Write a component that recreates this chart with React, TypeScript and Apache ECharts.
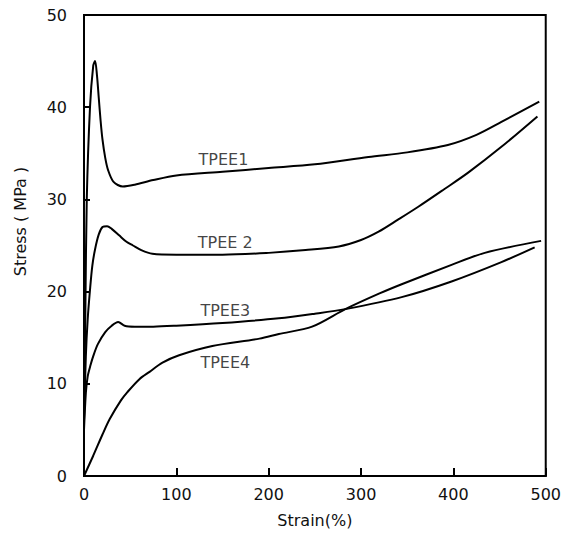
import React, { useEffect, useRef } from "react";
import * as echarts from "echarts";

const tpee1Strain = [0, 1.5, 3, 6.5, 10, 12, 14, 16, 18, 20, 23, 26, 32, 42, 55, 75, 100, 150, 200, 250, 308, 350, 394, 425, 452, 493];
const tpee1Stress = [6, 18, 30, 40, 44.5, 45, 43.5, 41, 38.5, 36.5, 34.5, 33.2, 31.9, 31.4, 31.6, 32.1, 32.6, 33, 33.4, 33.8, 34.6, 35.1, 35.9, 37, 38.4, 40.6];

const tpee2Strain = [0, 2, 4, 6.5, 9, 12, 16, 20, 25, 30, 38, 46, 53, 62, 74, 100, 150, 200, 240, 276, 300, 319, 340, 362, 390, 416, 452, 491];
const tpee2Stress = [6, 13, 17, 20.2, 22.8, 24.6, 26.2, 27, 27.1, 26.8, 26.1, 25.4, 25, 24.5, 24.1, 24, 24, 24.2, 24.5, 24.9, 25.6, 26.5, 27.8, 29.2, 31.1, 32.9, 35.7, 39];

const tpee3Strain = [0, 2, 4, 7, 10, 15, 23, 30, 37, 44, 55, 75, 100, 150, 211, 250, 283, 344, 398, 452, 488];
const tpee3Stress = [5, 9, 10.8, 12, 13, 14.3, 15.6, 16.3, 16.7, 16.3, 16.2, 16.2, 16.3, 16.6, 17.1, 17.6, 18.1, 19.4, 21.1, 23.2, 24.8];

const tpee4Strain = [0, 10, 20, 28, 40, 47, 60, 71, 85, 103, 139, 190, 211, 247, 283, 320, 344, 398, 434, 495];
const tpee4Stress = [0, 2.2, 4.5, 6.2, 8.2, 9.1, 10.5, 11.3, 12.3, 13.1, 14.1, 14.9, 15.4, 16.2, 18.1, 19.8, 20.8, 22.9, 24.2, 25.5];

const labelNames = ["TPEE1", "TPEE 2", "TPEE3", "TPEE4"];
const labelStrain = [151, 153, 153, 153];
const labelStress = [34.3, 25.3, 17.9, 12.3];

const xTicks = [0, 100, 200, 300, 400, 500];
const yTicks = [0, 10, 20, 30, 40, 50];

const FONT = "DejaVu Sans";

function pairs(xs: number[], ys: number[]) {
  return xs.map((x, i) => [x, ys[i]]);
}

export default function App() {
  const ref = useRef<HTMLDivElement>(null);
  useEffect(() => {
    document.body.style.margin = "0";
    if (!ref.current) return;
    const chart = echarts.init(ref.current, null, { renderer: "svg" });
    const lineStyle = { color: "#000", width: 2 };
    const mkLine = (name: string, xs: number[], ys: number[]) => ({
      name,
      type: "line",
      data: pairs(xs, ys),
      showSymbol: false,
      symbol: "none",
      smooth: 0.3,
      lineStyle,
      z: 3,
    });
    chart.setOption({
      animation: false,
      backgroundColor: "#fff",
      grid: {
        left: 84,
        top: 15,
        right: 16,
        bottom: 56,
        show: true,
        borderColor: "#000",
        borderWidth: 2,
      },
      xAxis: {
        type: "value",
        min: xTicks[0],
        max: xTicks[xTicks.length - 1],
        interval: 100,
        name: "Strain(%)",
        nameLocation: "middle",
        nameGap: 36,
        nameTextStyle: { fontFamily: FONT, fontSize: 16, color: "#111" },
        axisLine: { show: true, lineStyle: { color: "#000", width: 2 } },
        axisTick: { show: true, inside: true, length: 8, lineStyle: { color: "#000", width: 2 } },
        axisLabel: { fontFamily: FONT, fontSize: 16, color: "#111", margin: 10 },
        splitLine: { show: false },
      },
      yAxis: {
        type: "value",
        min: yTicks[0],
        max: yTicks[yTicks.length - 1],
        interval: 10,
        name: "Stress ( MPa )",
        nameLocation: "middle",
        nameGap: 56,
        nameRotate: 90,
        nameTextStyle: { fontFamily: FONT, fontSize: 16, color: "#111", padding: [0, 0, 0, 48] },
        axisLine: { show: true, lineStyle: { color: "#000", width: 2 } },
        axisTick: { show: true, inside: true, length: 6, lineStyle: { color: "#000", width: 2 } },
        axisLabel: { fontFamily: FONT, fontSize: 16, color: "#111", margin: 17 },
        splitLine: { show: false },
      },
      series: [
        mkLine("TPEE1", tpee1Strain, tpee1Stress),
        mkLine("TPEE 2", tpee2Strain, tpee2Stress),
        mkLine("TPEE3", tpee3Strain, tpee3Stress),
        mkLine("TPEE4", tpee4Strain, tpee4Stress),
        {
          type: "scatter",
          data: labelNames.map((n, i) => ({ name: n, value: [labelStrain[i], labelStress[i]] })),
          symbolSize: 1,
          itemStyle: { color: "rgba(0,0,0,0)" },
          label: {
            show: true,
            position: "inside",
            formatter: (p: any) => p.name,
            fontFamily: FONT,
            fontSize: 16,
            color: "#111",
          },
          z: 4,
        },
      ],
    });
    return () => chart.dispose();
  }, []);
  return <div ref={ref} style={{ width: 564, height: 533 }} />;
}
